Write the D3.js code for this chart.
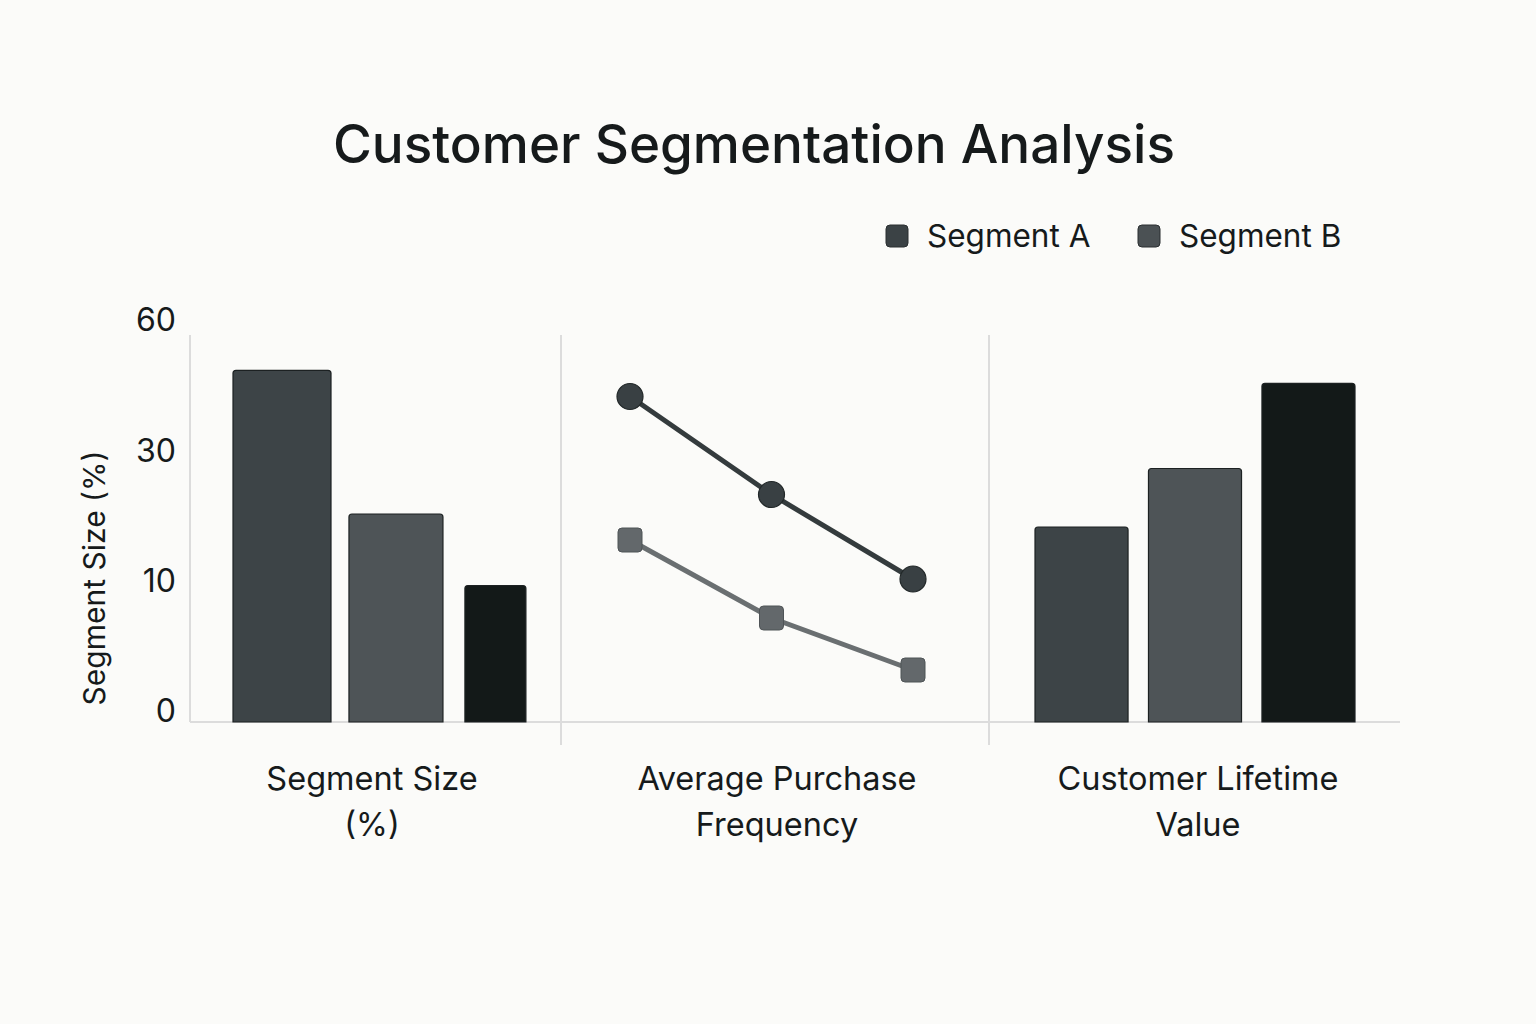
<!DOCTYPE html>
<html>
<head>
<meta charset="utf-8">
<script src="https://cdn.jsdelivr.net/npm/d3@7"></script>
<style>
  html, body { margin: 0; padding: 0; background: #fbfbf9; }
  svg { display: block; }
  text { font-family: Inter, "Liberation Sans", sans-serif; fill: #161a1b; }
</style>
</head>
<body>
<svg id="chart" width="1536" height="1024"></svg>
<script>
// ---- data ----
const panels = ["Segment Size (%)", "Average Purchase Frequency", "Customer Lifetime Value"];
const panelLabelLines = [["Segment Size", "(%)"], ["Average Purchase", "Frequency"], ["Customer Lifetime", "Value"]];
const segmentSizeValues = [51, 22, 11];
const lifetimeValueValues = [20, 29, 48];
const frequencyPoints = [0, 1, 2];
const segmentAFrequency = [45, 25, 12];
const segmentBFrequency = [18, 8, 4];
const seriesNames = ["Segment A", "Segment B"];
const yTickValues = [0, 10, 30, 60];
const yTickLabels = ["0", "10", "30", "60"];
const yTitle = "Segment Size (%)";
const chartTitle = "Customer Segmentation Analysis";

// ---- styles ----
const barFills = ["#3d4447", "#4e5457", "#131918"];
const seriesColors = { line: ["#343b3d", "#6a6f71"], marker: ["#394043", "#63686b"] };
const legendFills = ["#3b4245", "#4b5154"];
const gridColor = "#dcdcdc";

const svg = d3.select("#chart");

// y: evenly spaced ticks over an uneven value range (piecewise-linear scale)
const y = d3.scaleLinear().domain(yTickValues).range([722, 592, 462, 331]);

// panel boundaries along x
const panelLeft = d3.scaleOrdinal().domain(panels).range([190, 561, 989]);
const panelCenter = d3.scaleOrdinal().domain(panels).range([372, 777, 1198]);

// ---- title ----
svg.append("text")
  .attr("x", 754).attr("y", 163)
  .attr("text-anchor", "middle")
  .style("font-size", "53px").style("font-weight", 500)
  .text(chartTitle);

// ---- legend ----
const legend = svg.append("g");
const legendX = d3.scaleOrdinal().domain(seriesNames).range([886, 1138]);
seriesNames.forEach((name, i) => {
  const g = legend.append("g").attr("transform", `translate(${legendX(name)},225)`);
  g.append("rect").attr("width", 22).attr("height", 22).attr("rx", 4)
    .attr("fill", legendFills[i]).attr("stroke", "#2a2f31").attr("stroke-width", 1);
  g.append("text").attr("x", 41).attr("y", 22)
    .style("font-size", "31.5px").text(name);
});

// ---- grid / axes ----
svg.append("line").attr("x1", 190).attr("x2", 190).attr("y1", 335).attr("y2", y(0))
  .attr("stroke", gridColor).attr("stroke-width", 2);
svg.append("line").attr("x1", 190).attr("x2", 1400).attr("y1", y(0)).attr("y2", y(0))
  .attr("stroke", gridColor).attr("stroke-width", 2);
panels.slice(1).forEach(p => {
  svg.append("line").attr("x1", panelLeft(p)).attr("x2", panelLeft(p))
    .attr("y1", 335).attr("y2", 745)
    .attr("stroke", gridColor).attr("stroke-width", 2);
});

const yAxis = d3.axisLeft(y).tickValues(yTickValues)
  .tickFormat((d, i) => yTickLabels[i]).tickSize(0).tickPadding(14);
const yg = svg.append("g").attr("transform", "translate(190,0)").call(yAxis);
yg.select(".domain").remove();
yg.selectAll("text")
  .attr("dy", "-0.02em")
  .style("font-size", "32px").style("font-family", "Inter, 'Liberation Sans', sans-serif")
  .attr("fill", "#161a1b");

svg.append("text")
  .attr("transform", `translate(105,578) rotate(-90)`)
  .attr("text-anchor", "middle")
  .style("font-size", "30px")
  .text(yTitle);

// ---- bars ----
function drawBars(values, range, widths) {
  const xb = d3.scaleBand().domain(d3.range(values.length)).range(range).paddingInner(0.18);
  svg.append("g").selectAll("path").data(values).join("path")
    .attr("d", (v, i) => {
      const x0 = xb(i), w = widths ? widths[i] : xb.bandwidth();
      const top = y(v), base = y(0), r = 3;
      return `M${x0},${base}V${top + r}Q${x0},${top} ${x0 + r},${top}H${x0 + w - r}Q${x0 + w},${top} ${x0 + w},${top + r}V${base}Z`;
    })
    .attr("fill", (v, i) => barFills[i])
    .attr("stroke", "#1c2122").attr("stroke-width", 1.2);
}
drawBars(segmentSizeValues, [233, 560], [98, 94, 61]);
drawBars(lifetimeValueValues, [1035, 1355]);

// ---- lines ----
const xp = d3.scalePoint().domain(frequencyPoints).range([630, 913]);
const lineGen = d3.line().x((d, i) => xp(frequencyPoints[i])).y(d => y(d));

svg.append("path").datum(segmentBFrequency).attr("d", lineGen)
  .attr("fill", "none").attr("stroke", seriesColors.line[1]).attr("stroke-width", 5);
svg.append("g").selectAll("rect").data(segmentBFrequency).join("rect")
  .attr("x", (d, i) => xp(frequencyPoints[i]) - 12).attr("y", d => y(d) - 12)
  .attr("width", 24).attr("height", 24).attr("rx", 4)
  .attr("fill", seriesColors.marker[1]).attr("stroke", "#4f5457").attr("stroke-width", 1);

svg.append("path").datum(segmentAFrequency).attr("d", lineGen)
  .attr("fill", "none").attr("stroke", seriesColors.line[0]).attr("stroke-width", 5);
svg.append("g").selectAll("circle").data(segmentAFrequency).join("circle")
  .attr("cx", (d, i) => xp(frequencyPoints[i])).attr("cy", d => y(d))
  .attr("r", 13)
  .attr("fill", seriesColors.marker[0]).attr("stroke", "#222829").attr("stroke-width", 1.2);

// ---- category labels ----
panels.forEach((p, i) => {
  const t = svg.append("text").attr("text-anchor", "middle").style("font-size", "32.5px");
  panelLabelLines[i].forEach((line, j) => {
    t.append("tspan").attr("x", panelCenter(p)).attr("y", 790 + j * 46).text(line);
  });
});
</script>
</body>
</html>
